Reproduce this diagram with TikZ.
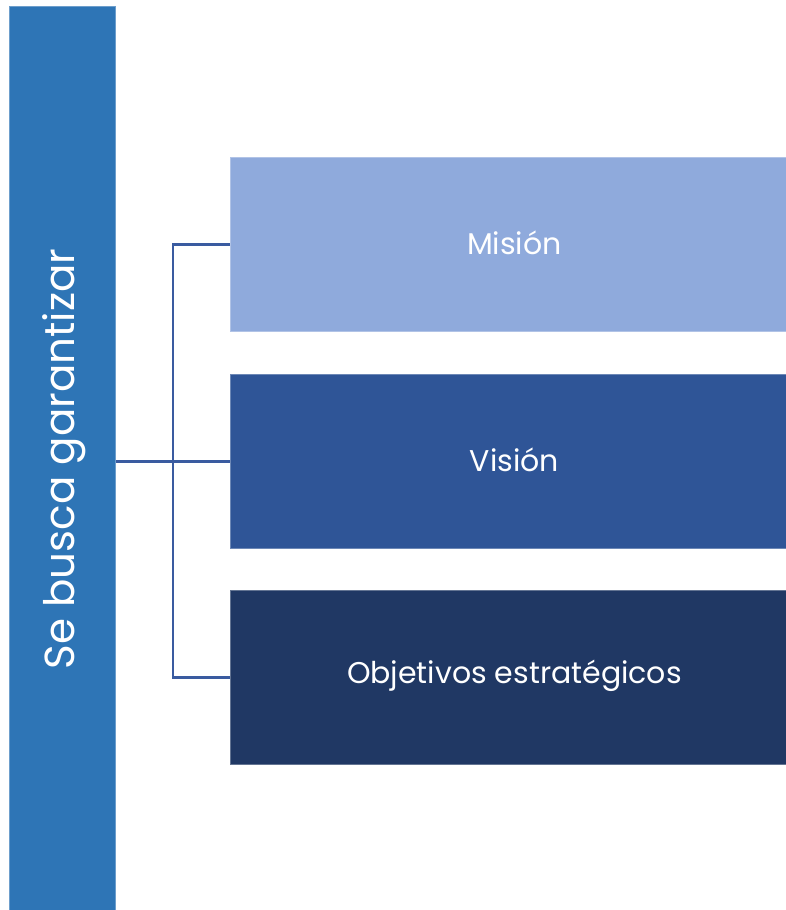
\documentclass[tikz,border=0pt]{standalone}
\usepackage{fontspec}
\setmainfont{Poppins}
\definecolor{barblue}{HTML}{2E75B6}
\definecolor{boxA}{HTML}{8FAADC}
\definecolor{boxB}{HTML}{2F5597}
\definecolor{boxC}{HTML}{203864}
\definecolor{lineblue}{HTML}{3A5BA0}
\begin{document}
\begin{tikzpicture}[x=1pt,y=-1pt,
  item/.style={fill=#1, draw=#1!70!white, line width=0.8pt, minimum width=556pt, minimum height=174pt, inner sep=0pt, anchor=north west},
  lbl/.style={text=white, font=\fontsize{30}{34}\selectfont},
  conn/.style={draw=lineblue, line width=2.5pt}]
\useasboundingbox (0,0) rectangle (786,910);
\node[fill=barblue, draw=barblue!70!white, line width=0.8pt, minimum width=106pt, minimum height=905pt, inner sep=0pt, anchor=north west] (bar) at (9,6) {};
\node[rotate=90, text=white, font=\fontsize{42}{46}\selectfont] (bartext) at (64,459) {Se busca garantizar};
\node[item=boxA] (m) at (230,157) {};
\node[item=boxB] (v) at (230,374) {};
\node[item=boxC] (o) at (230,590) {};
\node[lbl] (mt) at ([xshift=6pt,yshift=2pt]m.center) {Misión};
\node[lbl] (vt) at ([xshift=6pt,yshift=2pt]v.center) {Visión};
\node[lbl] (ot) at ([xshift=6pt,yshift=2pt]o.center) {Objetivos estratégicos};
\coordinate (j) at (173,460);
\draw[conn] (bar.east |- v.west) -- (v.west);
\draw[conn] (m.west) -| (j) |- (o.west);
\end{tikzpicture}
\end{document}
